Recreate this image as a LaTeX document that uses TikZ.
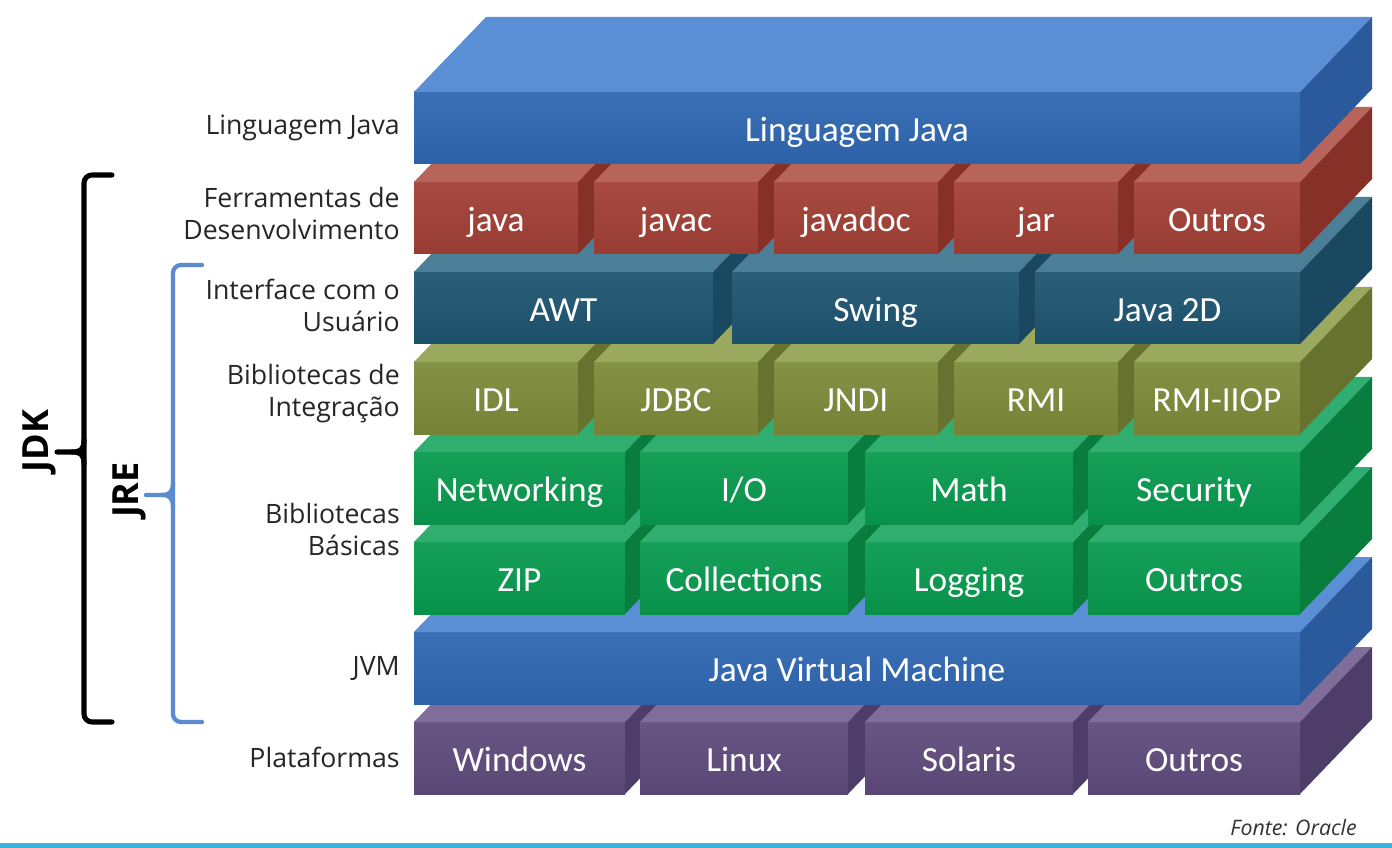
\documentclass[tikz,border=0pt]{standalone}
\usepackage{fontspec}
\setmainfont{Carlito}
\newfontfamily\rotulofont{Open Sans}
\usetikzlibrary{positioning}

\definecolor{azulfront}{HTML}{2F67B2}
\definecolor{azultop}{HTML}{5A8FD5}
\definecolor{azulside}{HTML}{2A5A9C}
\definecolor{vermfront}{HTML}{A23F35}
\definecolor{vermtop}{HTML}{B7655B}
\definecolor{vermside}{HTML}{873028}
\definecolor{petrfront}{HTML}{1E5571}
\definecolor{petrtop}{HTML}{4B7F98}
\definecolor{petrside}{HTML}{194860}
\definecolor{olivfront}{HTML}{7D8B39}
\definecolor{olivtop}{HTML}{9BA95E}
\definecolor{olivside}{HTML}{66722E}
\definecolor{verdfront}{HTML}{079A4E}
\definecolor{verdtop}{HTML}{2FAE6F}
\definecolor{verdside}{HTML}{087D3E}
\definecolor{roxofront}{HTML}{5F4B7D}
\definecolor{roxotop}{HTML}{806D99}
\definecolor{roxoside}{HTML}{4E3D68}
\definecolor{jreblue}{HTML}{5B8BCF}
\definecolor{faixa}{HTML}{3DB3DB}

\tikzset{
  bloco/.style={anchor=north west, inner sep=0pt, outer sep=0pt,
    minimum height=54pt, text height=21pt, text depth=1pt,
    text=white, font=\fontsize{26.5}{30}\selectfont},
  rotulo/.style={anchor=east, align=right, inner sep=0pt,
    font=\rotulofont\fontsize{20}{24}\selectfont, text=black!85},
  chave/.style={line width=3.8pt, line cap=round},
  sigla/.style={rotate=90, inner sep=0pt, font=\rotulofont\bfseries\fontsize{27}{30}\selectfont},
}

% #1 name, #2 left x, #3 right x, #4 top y, #5 colour, #6 text
\newcommand{\bloco}[6]{%
  \node[bloco, top color=#5front!94!white, bottom color=#5front!94!black,
    minimum width={(#3-#2)*0.75pt}] (#1) at (#2,#4) {#6};
  \fill[#5top] (#1.north west) -- ++(72,-75) -- ([shift={(72,-75)}]#1.north east) -- (#1.north east) -- cycle;
  \fill[#5side] (#1.north east) -- ++(72,-75) -- ([shift={(72,-75)}]#1.south east) -- (#1.south east) -- cycle;
}

\begin{document}
\begin{tikzpicture}[x=0.75pt,y=-0.75pt]
  \useasboundingbox (0,0) rectangle (1392,848);
  \fill[white] (0,0) rectangle (1392,848);

  % camadas, de baixo para cima
  \foreach \nome/\xa/\xb/\txt in {windows/414/625/Windows, linux/640/848/Linux,
      solaris/865/1073/Solaris, outrosplat/1088/1300/Outros}
    {\bloco{\nome}{\xa}{\xb}{722}{roxo}{\txt}}
  \bloco{jvm}{414}{1300}{632}{azul}{Java Virtual Machine}
  \foreach \nome/\xa/\xb/\txt in {zip/414/625/ZIP, collections/640/848/Collections,
      logging/865/1073/Logging, outrosbas/1088/1300/Outros}
    {\bloco{\nome}{\xa}{\xb}{542}{verd}{\txt}}
  \foreach \nome/\xa/\xb/\txt in {networking/414/625/Networking, io/640/848/{I/O},
      math/865/1073/Math, security/1088/1300/Security}
    {\bloco{\nome}{\xa}{\xb}{452}{verd}{\txt}}
  \foreach \nome/\xa/\xb/\txt in {idl/414/578/IDL, jdbc/594/758/JDBC, jndi/774/938/JNDI,
      rmi/954/1118/RMI, rmiiiop/1134/1300/RMI-IIOP}
    {\bloco{\nome}{\xa}{\xb}{362}{oliv}{\txt}}
  \foreach \nome/\xa/\xb/\txt in {awt/414/713/AWT, swing/732/1019/Swing, java2d/1035/1300/Java 2D}
    {\bloco{\nome}{\xa}{\xb}{272}{petr}{\txt}}
  \foreach \nome/\xa/\xb/\txt in {java/414/578/java, javac/594/758/javac, javadoc/774/938/javadoc,
      jar/954/1118/jar, outrosferr/1134/1300/Outros}
    {\bloco{\nome}{\xa}{\xb}{182}{verm}{\txt}}
  \bloco{linguagem}{414}{1300}{92}{azul}{Linguagem Java}

  % rotulos
  \node[rotulo] (lblling) at (400,128) {Linguagem Java};
  \node[rotulo] (lblferr) at (400,214) {Ferramentas de\\Desenvolvimento};
  \node[rotulo] (lblinter) at (400,305) {Interface com o\\Usuário};
  \node[rotulo] (lblinteg) at (400,394) {Bibliotecas de\\Integração};
  \node[rotulo] (lblbas) at (400,529) {Bibliotecas\\Básicas};
  \node[rotulo] (lbljvm) at (400,668) {JVM};
  \node[rotulo] (lblplat) at (400,757) {Plataformas};

  % chaves
  \draw[chave, rounded corners=6pt] (112,175) -- (84,175) -- (84,722) -- (112,722);
  \draw[chave] (84,440) .. controls (84,450) and (80,452) .. (72,452) -- (57,452);
  \draw[chave] (84,464) .. controls (84,454) and (80,452) .. (72,452);
  \node[sigla] (jdk) at (39,441) {JDK};

  \draw[chave, jreblue, line width=3.2pt, rounded corners=6pt] (202,265) -- (173,265) -- (173,722) -- (202,722);
  \draw[chave, jreblue, line width=3.2pt] (173,483) .. controls (173,493) and (169,495) .. (161,495) -- (146,495);
  \draw[chave, jreblue, line width=3.2pt] (173,507) .. controls (173,497) and (169,495) .. (161,495);
  \node[sigla] (jre) at (129,490) {JRE};

  \node[anchor=east, inner sep=0pt, font=\rotulofont\itshape\fontsize{16}{19}\selectfont, text=black!80] (fonte) at (1357,828) {Fonte: Oracle};
  \fill[faixa] (0,843) rectangle (1392,848);
\end{tikzpicture}
\end{document}
